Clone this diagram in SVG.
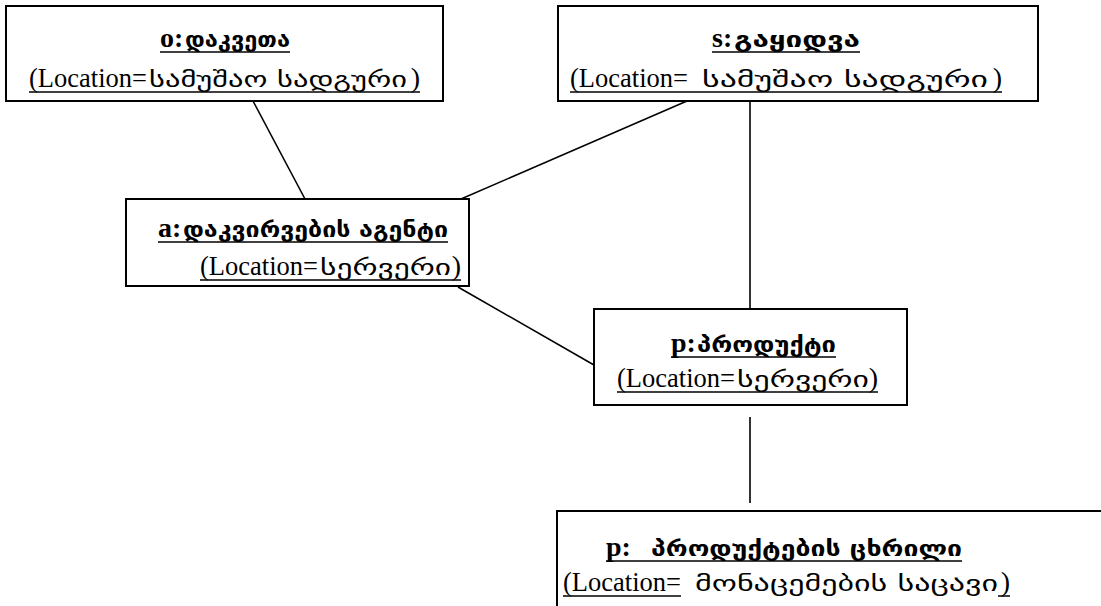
<svg xmlns="http://www.w3.org/2000/svg" width="1101" height="606" viewBox="0 0 1101 606">
  <style>
    .box { fill: #ffffff; stroke: #000000; stroke-width: 2; }
    .lat { font-family: "Liberation Serif", "Times New Roman", "DejaVu Serif", serif; font-size: 28px; fill: #000000; }
    .b { font-weight: bold; }
    .geo { font-family: "DejaVu Sans", "Noto Sans", sans-serif; font-size: 22px; fill: #000000; }
    .ul { stroke: #000000; stroke-width: 1.5; }
    .conn { stroke: #000000; stroke-width: 1.6; fill: none; }
  </style>
  <rect x="0" y="0" width="1101" height="606" fill="#ffffff"/>

  <!-- associations -->
  <g id="connectors">
    <line class="conn" x1="253" y1="101" x2="305" y2="199"/>
    <line class="conn" x1="687" y1="101" x2="461" y2="199"/>
    <line class="conn" x1="750" y1="101" x2="750" y2="309"/>
    <line class="conn" x1="458" y1="287" x2="594" y2="365"/>
    <line class="conn" x1="750" y1="417" x2="750" y2="503"/>
  </g>

  <g id="node-order">
    <rect class="box" x="6" y="6" width="437" height="95"/>
    <text class="lat b" x="160" y="47">o:</text>
    <text class="geo b" x="185" y="47" textLength="105" lengthAdjust="spacingAndGlyphs">დაკვეთა</text>
    <line class="ul" x1="160" y1="52" x2="290" y2="52"/>
    <text class="lat" x="29" y="87" textLength="118" lengthAdjust="spacingAndGlyphs">(Location=</text>
    <text class="geo" x="149" y="87" textLength="258" lengthAdjust="spacingAndGlyphs">სამუშაო  სადგური</text>
    <text class="lat" x="420" y="87" text-anchor="end">)</text>
    <line class="ul" x1="29" y1="92" x2="420" y2="92"/>
  </g>

  <g id="node-sale">
    <rect class="box" x="558" y="6" width="480" height="95"/>
    <text class="lat b" x="712" y="47">s:</text>
    <text class="geo b" x="734" y="47" textLength="126" lengthAdjust="spacingAndGlyphs">გაყიდვა</text>
    <line class="ul" x1="712" y1="52" x2="860" y2="52"/>
    <text class="lat" x="570" y="87" textLength="118" lengthAdjust="spacingAndGlyphs">(Location=</text>
    <text class="geo" x="702" y="87" textLength="286" lengthAdjust="spacingAndGlyphs">სამუშაო  სადგური</text>
    <text class="lat" x="1002" y="87" text-anchor="end">)</text>
    <line class="ul" x1="570" y1="92" x2="1002" y2="92"/>
  </g>

  <g id="node-agent">
    <rect class="box" x="126" y="199" width="343" height="87"/>
    <text class="lat b" x="158" y="237">a:</text>
    <text class="geo b" x="183" y="237" textLength="265" lengthAdjust="spacingAndGlyphs">დაკვირვების  აგენტი</text>
    <line class="ul" x1="158" y1="242" x2="448" y2="242"/>
    <text class="lat" x="200" y="275" textLength="118" lengthAdjust="spacingAndGlyphs">(Location=</text>
    <text class="geo" x="320" y="275" textLength="131" lengthAdjust="spacingAndGlyphs">სერვერი</text>
    <text class="lat" x="461" y="275" text-anchor="end">)</text>
    <line class="ul" x1="200" y1="280" x2="461" y2="280"/>
  </g>

  <g id="node-product">
    <rect class="box" x="594" y="309" width="313" height="96"/>
    <text class="lat b" x="671" y="352">p:</text>
    <text class="geo b" x="697" y="352" textLength="139" lengthAdjust="spacingAndGlyphs">პროდუქტი</text>
    <line class="ul" x1="671" y1="357" x2="836" y2="357"/>
    <text class="lat" x="617" y="387" textLength="118" lengthAdjust="spacingAndGlyphs">(Location=</text>
    <text class="geo" x="737" y="387" textLength="132" lengthAdjust="spacingAndGlyphs">სერვერი</text>
    <text class="lat" x="878" y="387" text-anchor="end">)</text>
    <line class="ul" x1="617" y1="392" x2="878" y2="392"/>
  </g>

  <g id="node-product-table">
    <rect class="box" x="557" y="511" width="560" height="110"/>
    <text class="lat b" x="606" y="556">p:</text>
    <text class="geo b" x="651" y="556" textLength="311" lengthAdjust="spacingAndGlyphs">პროდუქტების  ცხრილი</text>
    <line class="ul" x1="606" y1="561" x2="962" y2="561"/>
    <text class="lat" x="563" y="591" textLength="118" lengthAdjust="spacingAndGlyphs">(Location=</text>
    <line class="ul" x1="563" y1="596" x2="681" y2="596"/>
    <text class="geo" x="695" y="591" textLength="303" lengthAdjust="spacingAndGlyphs">მონაცემების  საცავი</text>
    <text class="lat" x="1010" y="591" text-anchor="end">)</text>
    <line class="ul" x1="998" y1="596" x2="1010" y2="596"/>
  </g>
</svg>
